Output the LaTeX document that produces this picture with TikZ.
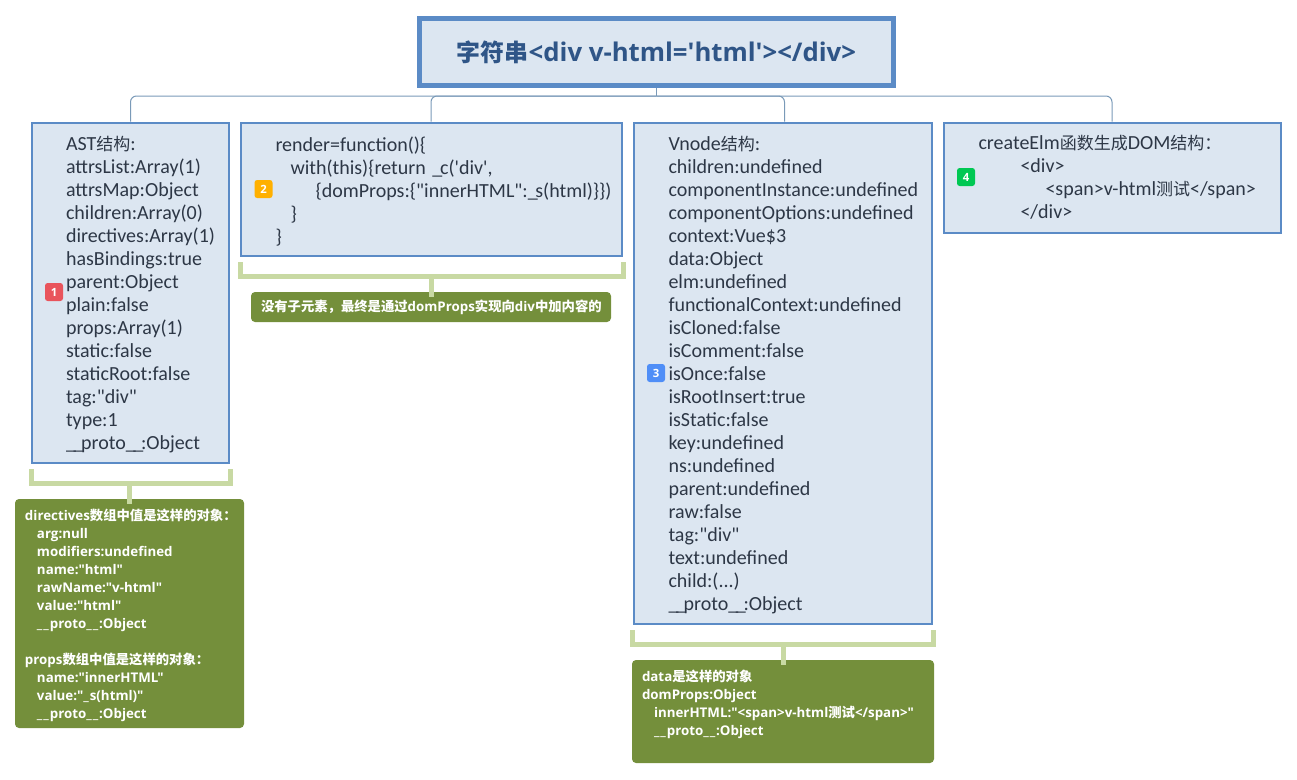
\documentclass[tikz,border=0pt]{standalone}
\usepackage{fontspec}
\newfontfamily\bodyfont{Carlito}
\newfontfamily\notefont{Open Sans}
\newfontfamily\cjk[Scale=0.85]{Noto Sans CJK SC}
\newfontfamily\cjknote{Noto Sans CJK SC}
\newfontfamily\cjkroot[Scale=0.93]{Noto Sans CJK SC}
\newcommand{\zh}[1]{{\cjk #1}}
\newcommand{\nz}[1]{{\cjknote #1}}
\newcommand{\us}{\_\kern-1.8pt}
\newcommand{\nus}{\_\kern0.7pt}

\tikzset{every picture/.style={line width=0.75pt}}
\tikzset{
  rootbox/.style={draw={rgb, 255:red, 91; green, 139; blue, 198}, fill={rgb, 255:red, 220; green, 230; blue, 241}, line width=3.75pt, inner sep=0pt, font=\notefont\bfseries\fontsize{19.3pt}{23pt}\selectfont, text={rgb, 255:red, 47; green, 85; blue, 135}},
  topicbox/.style={draw={rgb, 255:red, 91; green, 139; blue, 198}, fill={rgb, 255:red, 220; green, 230; blue, 241}, line width=1.5pt, inner sep=0pt, anchor=north west, align=left, font=\bodyfont\fontsize{15pt}{17.25pt}\selectfont, text={rgb, 255:red, 45; green, 55; blue, 70}},
  notebox/.style={fill={rgb, 255:red, 116; green, 143; blue, 59}, rounded corners=3pt, inner sep=0pt, anchor=north west, align=left, font=\notefont\bfseries\fontsize{10pt}{13.5pt}\selectfont, text=white},
  badge/.style={rounded corners=2pt, minimum size=13.5pt, inner sep=0pt, font=\notefont\bfseries\fontsize{8.5pt}{10pt}\selectfont, text=white},
  busline/.style={draw={rgb, 255:red, 122; green, 154; blue, 184}, line width=0.75pt, rounded corners=4.5pt},
  bracketline/.style={draw={rgb, 255:red, 200; green, 217; blue, 163}, line width=3.75pt},
  lead/.style={execute at begin node={\leftskip=#1\relax}},
  drop/.style={execute at begin node={\rule{0pt}{#1}}}
}

\begin{document}
\begin{tikzpicture}[x=0.75pt,y=0.75pt,yscale=-1,xscale=1]
\useasboundingbox (0,0) rectangle (1297,779);

% Root Node
\draw (656.5,52) node (root) [rootbox, minimum width=355.5pt, minimum height=50.25pt] {\cjkroot 字符串\notefont <div v-html='html'></div>};

% Topic Nodes
\draw (31,121.5) node (astbox) [topicbox, text width=147.75pt, minimum height=255pt, lead=25.5pt, drop=14.5pt] {AST\zh{结构}:\\attrsList:Array(1)\\attrsMap:Object\\children:Array(0)\\directives:Array(1)\\hasBindings:true\\parent:Object\\plain:false\\props:Array(1)\\static:false\\staticRoot:false\\tag:"div"\\type:1\\\us\us proto\us\us:Object};
\draw (239.5,121.5) node (renderbox) [topicbox, text width=285.75pt, minimum height=99.75pt, lead=26.25pt, drop=14.5pt] {render=function()\{\\\hspace*{11.25pt}with(this)\{return \us c('div',\\\hspace*{30pt}\{domProps:\{"innerHTML":\us s(html)\}\})\\\hspace*{11.25pt}\}\\\}};
\draw (632.5,121.5) node (vnodebox) [topicbox, text width=223.5pt, minimum height=375.75pt, lead=26.25pt, drop=14.5pt] {Vnode\zh{结构}:\\children:undefined\\componentInstance:undefined\\componentOptions:undefined\\context:Vue\$3\\data:Object\\elm:undefined\\functionalContext:undefined\\isCloned:false\\isComment:false\\isOnce:false\\isRootInsert:true\\isStatic:false\\key:undefined\\ns:undefined\\parent:undefined\\raw:false\\tag:"div"\\text:undefined\\child:(...)\\\us\us proto\us\us:Object};
\draw (942.5,121.5) node (elmbox) [topicbox, text width=252.75pt, minimum height=82.5pt, lead=26.25pt] {createElm\zh{函数生成}DOM\zh{结构：}\\\hspace*{31.5pt}<div>\\\hspace*{50.25pt}<span>v-html\zh{测试}</span>\\\hspace*{31.5pt}</div>};

% Note Nodes
\draw (14.5,498.5) node (astnote) [notebox, text width=171.75pt, minimum height=171.75pt, lead=7.5pt] {\rule{0pt}{12pt}directives\nz{数组中值是这样的对象：}\\\hspace*{9pt}arg:null\\\hspace*{9pt}modifiers:undefined\\\hspace*{9pt}name:"html"\\\hspace*{9pt}rawName:"v-html"\\\hspace*{9pt}value:"html"\\\hspace*{9pt}\nus\nus proto\nus\nus:Object\\[13.5pt]props\nz{数组中值是这样的对象：}\\\hspace*{9pt}name:"innerHTML"\\\hspace*{9pt}value:"\nus s(html)"\\\hspace*{9pt}\nus\nus proto\nus\nus:Object};
\draw (250.5,291.5) node (rendernote) [notebox, text width=270pt, minimum height=22.5pt, lead=7.5pt] {\nz{没有子元素，最终是通过}domProps\nz{实现向}div\nz{中加内容的}};
\draw (631.5,659.5) node (vnodenote) [notebox, text width=226.5pt, minimum height=77.25pt, lead=7.5pt] {data\nz{是这样的对象}\\domProps:Object\\\hspace*{9pt}innerHTML:"<span>v-html\nz{测试}</span>"\\\hspace*{9pt}\nus\nus proto\nus\nus:Object\\\mbox{}};

% Badge Nodes
\draw (54,292) node (badgeone) [badge, fill={rgb, 255:red, 233; green, 84; blue, 92}] {1};
\draw (263.5,189) node (badgetwo) [badge, fill={rgb, 255:red, 255; green, 176; blue, 0}] {2};
\draw (656,373) node (badgethree) [badge, fill={rgb, 255:red, 79; green, 142; blue, 247}] {3};
\draw (966,177) node (badgefour) [badge, fill={rgb, 255:red, 0; green, 200; blue, 83}] {4};

% Tree Lines
\coordinate (bus) at (656.5,96);
\draw [busline] (root.south) -- (bus);
\draw [busline] (bus) -| (astbox.north);
\draw [busline] (bus) -| (renderbox.north);
\draw [busline] (bus) -| ([xshift=1.5pt]vnodebox.north);
\draw [busline] (bus) -| (elmbox.north);

% Bracket Lines
\coordinate (astleft) at (31,469);
\coordinate (astright) at (230,469);
\draw [bracketline] (astleft) -- ++(0,14) -| (astright);
\draw [bracketline] ([yshift=3.75pt]astnote.north) -- (astnote.north |- 0,483);
\coordinate (renderleft) at (240.5,262);
\coordinate (renderright) at (623.5,262);
\draw [bracketline] (renderleft) -- ++(0,14) -| (renderright);
\draw [bracketline] ([yshift=3.75pt]rendernote.north) -- (rendernote.north |- 0,276);
\coordinate (vnodeleft) at (632.5,630);
\coordinate (vnoderight) at (933.5,630);
\draw [bracketline] (vnodeleft) -- ++(0,14) -| (vnoderight);
\draw [bracketline] ([yshift=3.75pt]vnodenote.north) -- (vnodenote.north |- 0,644);

\end{tikzpicture}
\end{document}
